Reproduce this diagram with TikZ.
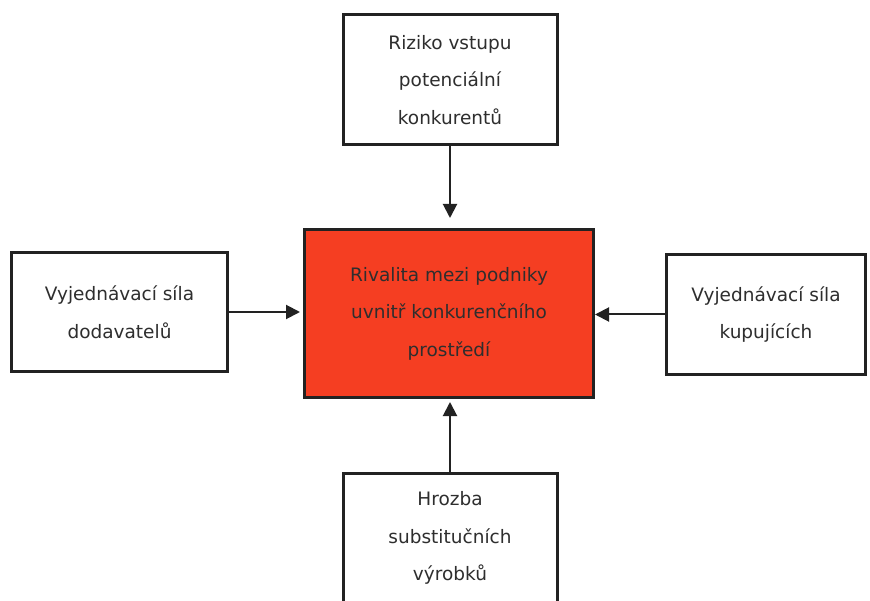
\documentclass[tikz,border=0pt]{standalone}
\usepackage{fontspec}
\setmainfont{DejaVu Sans}
\usetikzlibrary{arrows.meta}
\definecolor{edge}{HTML}{222222}
\definecolor{ink}{HTML}{2E2E2E}
\definecolor{rival}{HTML}{F53E22}
\tikzset{
  forcebox/.style={draw=edge, line width=3pt, fill=white, text=ink, align=center,
    inner sep=0pt, font=\fontsize{18.5}{37.5}\selectfont},
  flow/.style={draw=edge, line width=2pt,
    -{Triangle[length=14pt,width=14pt]}}
}
\begin{document}
\begin{tikzpicture}[x=1pt,y=-1pt]
\useasboundingbox (0,0) rectangle (870,601);
\clip (0,0) rectangle (870,601);
% central force
\node[forcebox, fill=rival, minimum width=289pt, minimum height=168pt]
  (mid) at (449,313.5) {Rivalita mezi podniky\\uvnitř konkurenčního\\prostředí};
% surrounding forces
\node[forcebox, minimum width=214pt, minimum height=130pt]
  (top) at (450,80) {Riziko vstupu\\potenciální\\konkurentů};
\node[forcebox, minimum width=216pt, minimum height=119pt]
  (left) at (119.5,312) {Vyjednávací síla\\dodavatelů};
\node[forcebox, minimum width=199pt, minimum height=120pt]
  (right) at (766,314.5) {Vyjednávací síla\\kupujících};
\node[forcebox, minimum width=214pt, minimum height=130pt]
  (bottom) at (450,538) {Hrozba\\substitučních\\výrobků};
% connectors
\draw[flow, shorten >=10pt] (top.south) -- (top.south |- mid.north);
\draw[flow, shorten >=3pt] (left.east) -- (left.east -| mid.west);
\draw[flow] (right.west) -- (right.west -| mid.east);
\draw[flow, shorten >=3pt] (bottom.north) -- (bottom.north |- mid.south);
\end{tikzpicture}
\end{document}
